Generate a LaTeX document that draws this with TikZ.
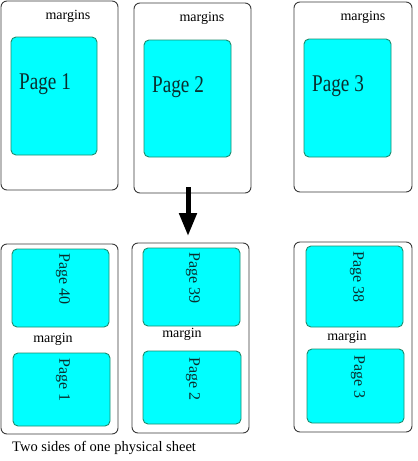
\documentclass[tikz,border=0pt]{standalone}
\usepackage{fontspec}
\setmainfont{Liberation Serif}
\usetikzlibrary{arrows.meta}
\definecolor{cyanfill}{HTML}{00FFFF}
\definecolor{pageedge}{HTML}{1E8C6E}
\definecolor{boxedge}{HTML}{3A3A3A}
\definecolor{pagetext}{HTML}{0A2E2E}
\tikzset{
  sheet/.style={draw=boxedge, line width=0.9pt, rounded corners=6pt, fill=white, inner sep=0pt, outer sep=0pt},
  pagebox/.style={draw=pageedge, line width=0.9pt, fill=cyanfill, rounded corners=5pt, inner sep=0pt, outer sep=0pt},
  bigpage/.style={font=\fontsize{24}{28}\selectfont, text=pagetext, xscale=0.8, inner sep=0pt},
  rotpage/.style={font=\fontsize{16}{19}\selectfont, text=pagetext, rotate=-90, inner sep=0pt},
  marg/.style={font=\fontsize{14}{17}\selectfont, inner sep=0pt},
  bigarrow/.style={line width=5pt, -{Triangle[width=17pt,length=23pt]}},
}
\begin{document}
\begin{tikzpicture}[x=1pt,y=-1pt]
\useasboundingbox (0,0) rectangle (418,461);
% top row
\node[sheet, minimum width=117pt, minimum height=189pt] (b1) at (59.5,95.5) {};
\node[pagebox, minimum width=86pt, minimum height=118pt] (p1) at (54,96) {};
\node[marg] (m1) at (68,16) {margins};
\node[bigpage] (t1) at (45,84) {Page 1};

\node[sheet, minimum width=117pt, minimum height=190pt] (b2) at (192.5,98) {};
\node[pagebox, minimum width=87pt, minimum height=117pt] (p2) at (187.5,98.5) {};
\node[marg] (m2) at (202,18) {margins};
\node[bigpage] (t2) at (178,87) {Page 2};

\node[sheet, minimum width=118pt, minimum height=190pt] (b3) at (353,97) {};
\node[pagebox, minimum width=87pt, minimum height=118pt] (p3) at (347.5,98) {};
\node[marg] (m3) at (363,17) {margins};
\node[bigpage] (t3) at (338,86) {Page 3};

% bottom row
\node[sheet, minimum width=117pt, minimum height=190pt] (b4) at (59.5,339) {};
\node[pagebox, minimum width=97pt, minimum height=78pt] (p4a) at (60.5,288) {};
\node[pagebox, minimum width=97pt, minimum height=73pt] (p4b) at (61.5,389.5) {};
\node[marg] (m4) at (53,339) {margin};
\node[rotpage] (t4a) at (63,279) {Page 40};
\node[rotpage] (t4b) at (63,380) {Page 1};

\node[sheet, minimum width=117pt, minimum height=190pt] (b5) at (190.5,338) {};
\node[pagebox, minimum width=97pt, minimum height=78pt] (p5a) at (191.5,287) {};
\node[pagebox, minimum width=98pt, minimum height=73pt] (p5b) at (192,387.5) {};
\node[marg] (m5) at (182,334) {margin};
\node[rotpage] (t5a) at (193,278) {Page 39};
\node[rotpage] (t5b) at (193,379) {Page 2};

\node[sheet, minimum width=118pt, minimum height=190pt] (b6) at (353,337) {};
\node[pagebox, minimum width=97pt, minimum height=81pt] (p6a) at (354.5,286.5) {};
\node[pagebox, minimum width=97pt, minimum height=74pt] (p6b) at (355.5,386) {};
\node[marg] (m6) at (347,337) {margin};
\node[rotpage] (t6a) at (357,277) {Page 38};
\node[rotpage] (t6b) at (358,377) {Page 3};

% arrow
\coordinate (as) at (188,187);
\coordinate (ae) at (188,236);
\draw[bigarrow] (as) -- (ae);

% caption
\node[font=\fontsize{14.5}{17}\selectfont, anchor=west, inner sep=0pt] (cap) at (12,448) {Two sides of one physical sheet};
\end{tikzpicture}
\end{document}
